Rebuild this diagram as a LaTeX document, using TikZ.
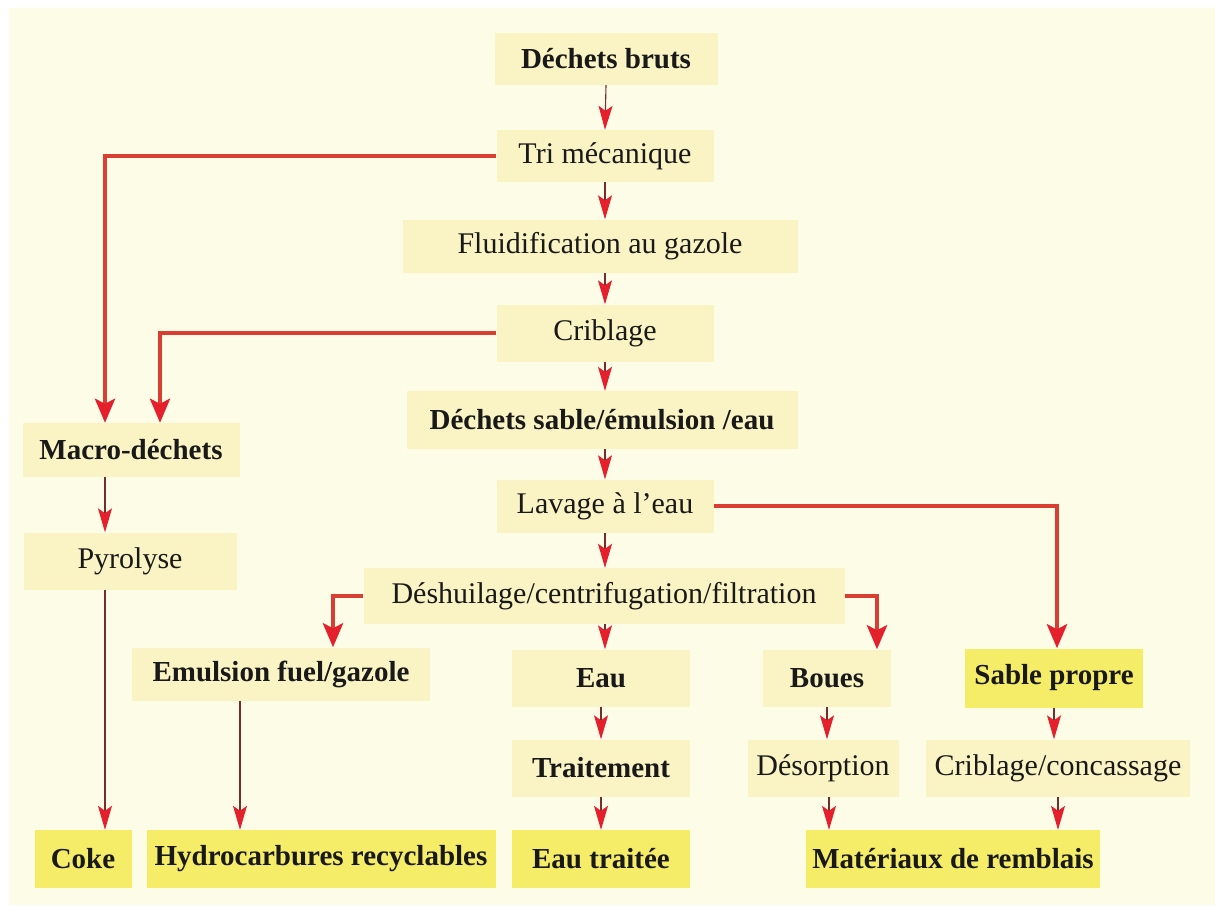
\documentclass[tikz,border=0pt]{standalone}
\usepackage{fontspec}
\setmainfont{Liberation Serif}
\usetikzlibrary{arrows.meta,calc}
\definecolor{bgcream}{RGB}{253,252,230}
\definecolor{palebox}{RGB}{250,244,196}
\definecolor{strongbox}{RGB}{245,236,104}
\definecolor{stemcol}{RGB}{120,45,45}
\definecolor{arrowred}{RGB}{228,32,44}
\definecolor{thickred}{RGB}{216,62,50}
\tikzset{
  box/.style={fill=palebox, inner sep=0pt, align=center, text=black!90},
  strong/.style={box, fill=strongbox},
  bld/.style={font=\fontsize{29}{32}\selectfont\bfseries},
  reg/.style={font=\fontsize{30}{33}\selectfont},
  thinarrow/.style={draw=stemcol, line width=1.1pt,
    -{Stealth[length=24pt,width=14pt,inset=5pt,color=arrowred]}},
  thickarrow/.style={draw=thickred, line width=4.5pt,
    -{Stealth[length=24pt,width=20pt,inset=5pt,color=arrowred]}},
}
\begin{document}
\begin{tikzpicture}[x=1pt,y=-1pt]
\useasboundingbox (0,0) rectangle (1215,905);
\fill[white] (0,0) rectangle (1215,905);
\fill[bgcream] (9,8) rectangle (1215,905);

% main column
\node[box,bld,minimum width=223pt,minimum height=52pt] (db) at (606,59) {Déchets bruts};
\node[box,reg,minimum width=217pt,minimum height=52pt] (tri) at (605,156) {Tri mécanique};
\node[box,reg,minimum width=395pt,minimum height=53pt] (flu) at (600,246) {Fluidification au gazole};
\node[box,reg,minimum width=217pt,minimum height=57pt] (cri) at (605,333) {Criblage};
\node[box,bld,minimum width=391pt,minimum height=58pt] (dse) at (602,420) {Déchets sable/émulsion /eau};
\node[box,reg,minimum width=217pt,minimum height=53pt] (lav) at (605,506) {Lavage à l’eau};
\node[box,reg,minimum width=481pt,minimum height=56pt] (des) at (604,596) {Déshuilage/centrifugation/filtration};

% left column
\node[box,bld,minimum width=217pt,minimum height=54pt] (mac) at (131,450) {Macro-déchets};
\node[box,reg,minimum width=213pt,minimum height=57pt] (pyr) at (130,561) {Pyrolyse};

% second level
\node[box,bld,minimum width=298pt,minimum height=53pt] (emu) at (281,674) {Emulsion fuel/gazole};
\node[box,bld,minimum width=178pt,minimum height=57pt] (eau) at (601,678) {Eau};
\node[box,bld,minimum width=128pt,minimum height=57pt] (bou) at (827,678) {Boues};
\node[strong,bld,minimum width=178pt,minimum height=59pt] (sab) at (1054,678) {Sable propre};

\node[box,bld,minimum width=178pt,minimum height=57pt] (tra) at (601,768) {Traitement};
\node[box,reg,minimum width=151pt,minimum height=57pt] (deso) at (823,768) {Désorption};
\node[box,reg,minimum width=264pt,minimum height=57pt] (crc) at (1058,768) {Criblage/concassage};

% bottom
\node[strong,bld,minimum width=97pt,minimum height=58pt] (coke) at (83,859) {Coke};
\node[strong,bld,minimum width=349pt,minimum height=58pt] (hyd) at (321,859) {Hydrocarbures recyclables};
\node[strong,bld,minimum width=178pt,minimum height=58pt] (eaut) at (601,859) {Eau traitée};
\node[strong,bld,minimum width=294pt,minimum height=58pt] (mat) at (953,859) {Matériaux de remblais};

% thin arrows, main column
\draw[thinarrow] (db.south) -- (tri.north);
\draw[thinarrow] (tri.south) -- (tri.south |- flu.north);
\draw[thinarrow] (tri.south |- flu.south) -- (cri.north);
\draw[thinarrow] (cri.south) -- (cri.south |- dse.north);
\draw[thinarrow] (cri.south |- dse.south) -- (lav.north);
\draw[thinarrow] (lav.south) -- (lav.south |- des.north);
\draw[thinarrow] (lav.south |- des.south) -- (lav.south |- eau.north);
\draw[thinarrow] (eau.south) -- (tra.north);
\draw[thinarrow] (tra.south) -- (eaut.north);

% left column
\draw[thinarrow] ([xshift=-26pt]mac.south) -- ([xshift=-26pt]mac.south |- pyr.north);
\draw[thinarrow] ([xshift=-25pt]pyr.south) -- ([xshift=-25pt]pyr.south |- coke.north);
\draw[thinarrow] ([xshift=-41pt]emu.south) -- ([xshift=-41pt]emu.south |- hyd.north);

% right columns
\draw[thinarrow] (bou.south) -- (bou.south |- deso.north);
\draw[thinarrow] ([xshift=6pt]deso.south) -- ([xshift=6pt]deso.south |- mat.north);
\draw[thinarrow] (sab.south) -- (sab.south |- crc.north);
\draw[thinarrow] (crc.south) -- (crc.south |- mat.north);

% thick connectors
\draw[thickarrow] (tri.west) -| ([xshift=-26pt]mac.north);
\draw[thickarrow] (cri.west) -| ([xshift=29pt]mac.north);
\draw[thickarrow] (lav.east) -| ([xshift=3pt]sab.north);
\draw[thickarrow] (des.west) -| ([xshift=52pt]emu.north);
\draw[thickarrow] (des.east) -| ([xshift=50pt]bou.north);
\end{tikzpicture}
\end{document}
